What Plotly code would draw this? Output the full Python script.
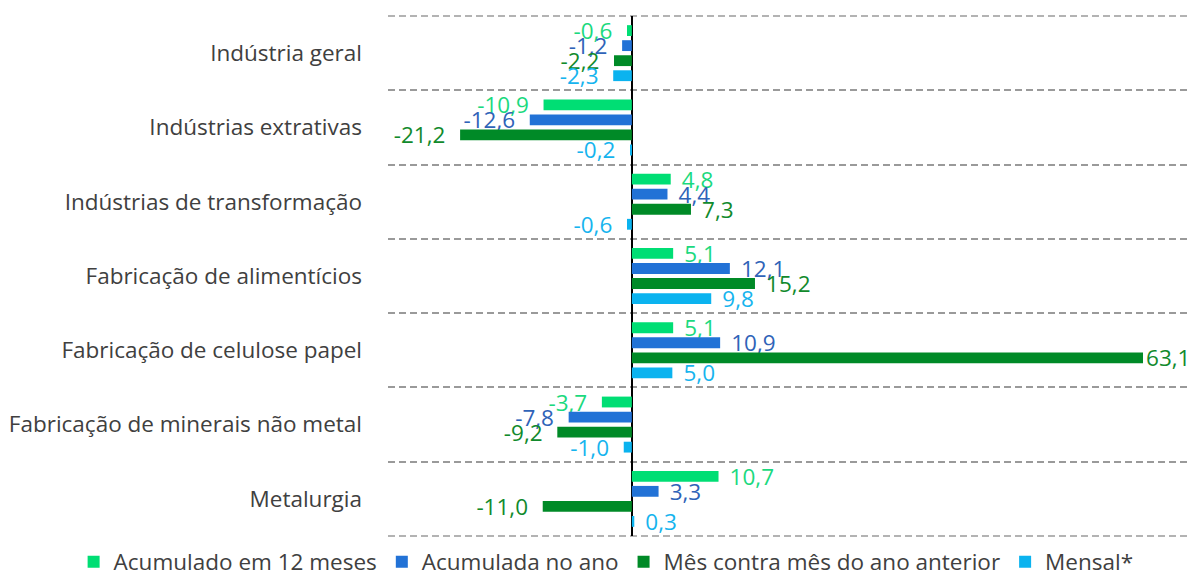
import plotly.graph_objects as go

categories = [
    "Indústria geral",
    "Indústrias extrativas",
    "Indústrias de transformação",
    "Fabricação de alimentícios",
    "Fabricação de celulose papel",
    "Fabricação de minerais não metal",
    "Metalurgia",
]
acum_12m = [-0.6, -10.9, 4.8, 5.1, 5.1, -3.7, 10.7]
acum_ano = [-1.2, -12.6, 4.4, 12.1, 10.9, -7.8, 3.3]
mes_contra_mes = [-2.2, -21.2, 7.3, 15.2, 63.1, -9.2, -11.0]
mensal = [-2.3, -0.2, -0.6, 9.8, 5.0, -1.0, 0.3]

series_names = ["Acumulado em 12 meses", "Acumulada no ano",
                "Mês contra mês do ano anterior", "Mensal*"]
series_values = [acum_12m, acum_ano, mes_contra_mes, mensal]
bar_colors = ["#00DE74", "#2272D6", "#008A27", "#0BB3EF"]
label_colors = ["#1BD97E", "#2F63B8", "#118A2C", "#16B4EE"]

X_RANGE = [-30.1, 68.9]
NB = "\u00a0"
HAIR = "\u200a"
FONT = "Open Sans"
FS = 22.5


def fmt(v):
    s = f"{v:.1f}".replace(".", ",")
    if v < 0:
        return s + NB * 2
    # a label that would run past the right edge sits right at the bar end
    if v > X_RANGE[1] - 8:
        return s
    return NB + HAIR + s


fig = go.Figure()
for name, vals, bc, lc in zip(series_names, series_values, bar_colors, label_colors):
    fig.add_trace(go.Bar(
        y=categories, x=vals, name=name, orientation="h",
        marker=dict(color=bc, line=dict(width=0)),
        text=[fmt(v) for v in vals], textposition="outside",
        constraintext="none", cliponaxis=False,
        textfont=dict(color=lc, size=FS, family=FONT),
        hoverinfo="skip",
    ))

grid_style = dict(color="#9A9A9A", width=1.5, dash="7px,4px")
for yy in (0, 1):
    fig.add_shape(type="line", xref="paper", yref="paper", x0=0, x1=1, y0=yy, y1=yy,
                  line=grid_style, layer="below")

fig.update_layout(
    width=1192, height=579,
    margin=dict(l=388, r=2, t=16, b=43, autoexpand=False),
    paper_bgcolor="white", plot_bgcolor="white",
    barmode="group", bargap=0.19, bargroupgap=0.28,
    font=dict(family=FONT, color="#404040"),
    showlegend=True,
    legend=dict(orientation="h", x=-0.392, xanchor="left", y=-0.050, yanchor="middle",
                font=dict(size=FS, color="#404040"), traceorder="normal",
                itemwidth=30, itemclick=False, bgcolor="rgba(0,0,0,0)"),
    xaxis=dict(range=X_RANGE, showgrid=False, showticklabels=False,
               zeroline=True, zerolinecolor="black", zerolinewidth=2,
               showline=False, ticks=""),
    yaxis=dict(autorange="reversed", tickson="boundaries", showgrid=True,
               griddash="7px,4px", gridcolor="#9A9A9A", gridwidth=1.5,
               ticks="", tickfont=dict(size=FS, color="#404040"),
               ticklabelstandoff=25, showline=False, zeroline=False),
)

fig.write_html("out.html", config={"displayModeBar": False},
               post_script="document.body.style.margin='0';")
